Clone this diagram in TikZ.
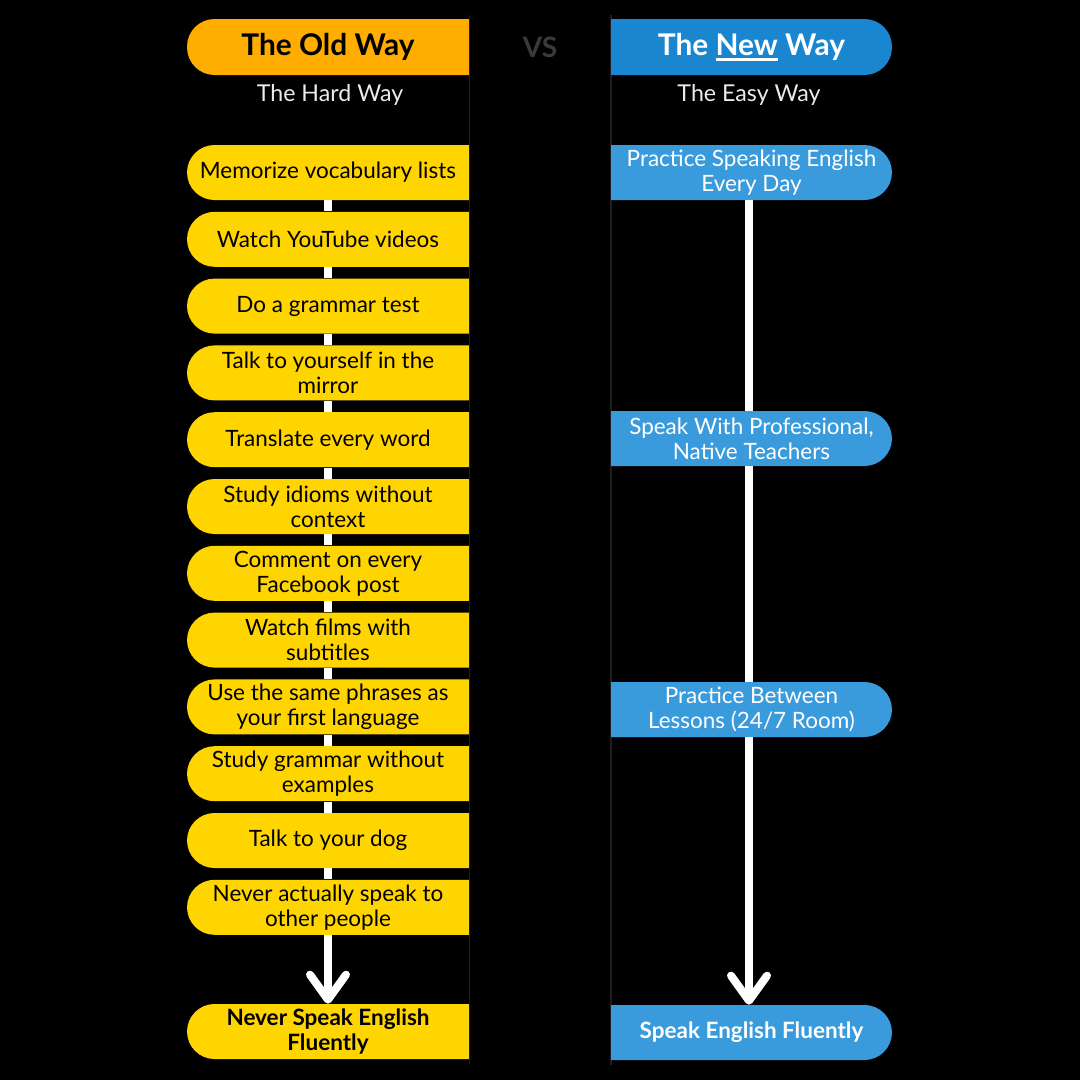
\documentclass[tikz,border=0pt]{standalone}
\usepackage{fontspec}
\setmainfont{Lato}
\usetikzlibrary{arrows.meta, positioning}
\definecolor{oldorange}{RGB}{255,173,0}
\definecolor{oldyellow}{RGB}{255,213,0}
\definecolor{newblue}{RGB}{26,134,208}
\definecolor{stepblue}{RGB}{58,155,220}
\definecolor{vsgray}{RGB}{58,58,58}
\definecolor{edgegray}{RGB}{30,30,30}
\newcommand{\undl}[1]{\setbox0\hbox{#1}\rlap{\rule[-2.8pt]{\wd0}{1.7pt}}#1}

\begin{document}
\begin{tikzpicture}[x=0.02cm, y=-0.02cm,
  leftpill/.style={path picture={\fill[#1, rounded corners=0.55cm]
    (path picture bounding box.north east) -- (path picture bounding box.north west)
    -- (path picture bounding box.south west) -- (path picture bounding box.south east);}},
  rightpill/.style={path picture={\fill[#1, rounded corners=0.55cm]
    (path picture bounding box.north west) -- (path picture bounding box.north east)
    -- (path picture bounding box.south east) -- (path picture bounding box.south west);}},
  oldbox/.style={leftpill=oldyellow, minimum width=5.64cm, minimum height=1.1cm,
    inner sep=0pt, align=center, font=\fontsize{12.8}{14.2}\selectfont, text=black},
  newbox/.style={rightpill=stepblue, minimum width=5.62cm, minimum height=1.1cm,
    inner sep=0pt, align=center, font=\fontsize{12.8}{14.2}\selectfont, text=white},
  oldhead/.style={oldbox, leftpill=oldorange, minimum height=1.12cm, font=\fontsize{17}{20}\bfseries},
  newhead/.style={newbox, rightpill=newblue, minimum height=1.12cm, font=\fontsize{17}{20}\bfseries},
  subtitle/.style={font=\fontsize{13.2}{15}\selectfont, text=white!92!black},
  link/.style={white, line width=0.16cm},
  arrow/.style={link, -{Straight Barb[round, length=0.5cm, width=0.72cm]}}
]
  \useasboundingbox (0,0) rectangle (1080,1080);
  \fill[black] (0,0) rectangle (1080,1080);
  \draw[edgegray, line width=0.03cm] (469.5,15) -- (469.5,1065);
  \draw[edgegray, line width=0.03cm] (611,15) -- (611,1065);

  % headers
  \node[oldhead] (oldh) at (328,47) {The Old Way};
  \node[newhead] (newh) at (751.5,47) {The \undl{New} Way};
  \node[font=\fontsize{16}{18}\selectfont\bfseries, text=vsgray] (vs) at (540,47) {VS};
  \node[subtitle] (oldsub) at (330,95) {The Hard Way};
  \node[subtitle] (newsub) at (749,95) {The Easy Way};

  % the hard way
  \node[oldbox] (o1)  at (328,172.5) {Memorize vocabulary lists};
  \node[oldbox] (o2)  at (328,239.3) {Watch YouTube videos};
  \node[oldbox] (o3)  at (328,306.1) {Do a grammar test};
  \node[oldbox] (o4)  at (328,372.9) {Talk to yourself in the\\mirror};
  \node[oldbox] (o5)  at (328,439.7) {Translate every word};
  \node[oldbox] (o6)  at (328,506.5) {Study idioms without\\context};
  \node[oldbox] (o7)  at (328,573.3) {Comment on every\\Facebook post};
  \node[oldbox] (o8)  at (328,640.1) {Watch films with\\subtitles};
  \node[oldbox] (o9)  at (328,706.9) {Use the same phrases as\\your first language};
  \node[oldbox] (o10) at (328,773.7) {Study grammar without\\examples};
  \node[oldbox] (o11) at (328,840.5) {Talk to your dog};
  \node[oldbox] (o12) at (328,907.3) {Never actually speak to\\other people};
  \node[oldbox, font=\fontsize{12.8}{14.2}\bfseries] (oend) at (328,1031.5) {Never Speak English\\Fluently};

  % the easy way
  \node[newbox] (n1) at (751.5,172.5) {Practice Speaking English\\Every Day};
  \node[newbox] (n2) at (751.5,438.5) {Speak With Professional,\\Native Teachers};
  \node[newbox] (n3) at (751.5,709.5) {Practice Between\\Lessons (24/7 Room)};
  \node[newbox, font=\fontsize{12.8}{14.2}\bfseries] (nend) at (751.5,1032.5) {Speak English Fluently};

  \foreach \a/\b in {1/2,2/3,3/4,4/5,5/6,6/7,7/8,8/9,9/10,10/11,11/12}
    \draw[link] (o\a.south) -- (o\b.north);
  \draw[arrow] (o12.south) -- (oend.north);
  \draw[link] ([xshift=-0.05cm]n1.south) -- ([xshift=-0.05cm]n2.north);
  \draw[link] ([xshift=-0.05cm]n2.south) -- ([xshift=-0.05cm]n3.north);
  \draw[arrow] ([xshift=-0.05cm]n3.south) -- ([xshift=-0.05cm]nend.north);
\end{tikzpicture}
\end{document}
